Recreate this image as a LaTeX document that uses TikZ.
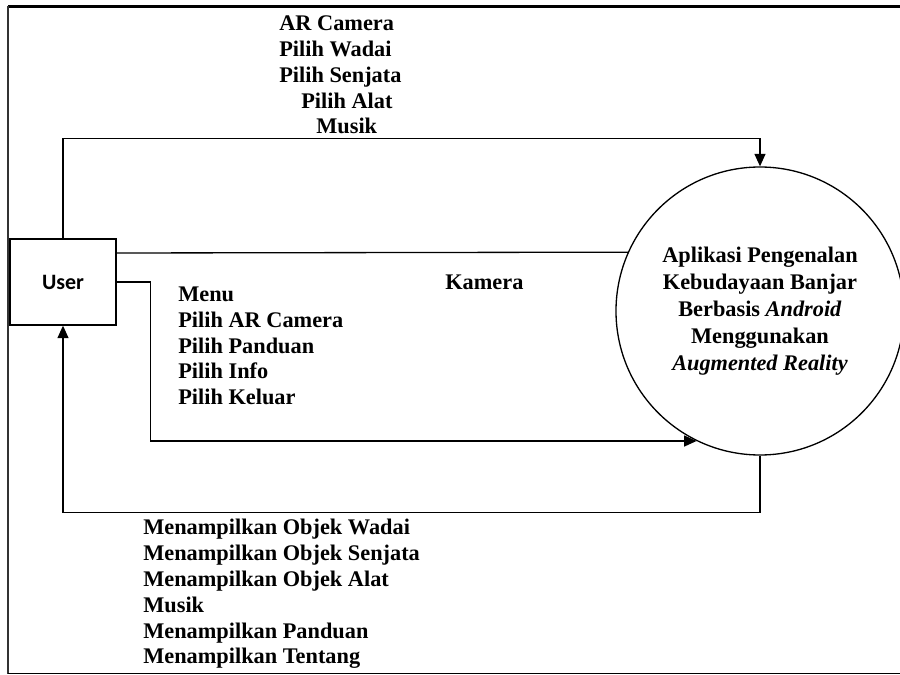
\documentclass[tikz,border=0pt]{standalone}
\usepackage{fontspec}
\setmainfont{Liberation Serif}
\newfontfamily\userfont{Carlito}
\usepackage{tikz}
\usetikzlibrary{arrows.meta, positioning}

\begin{document}
\begin{tikzpicture}[
  entity/.style={rectangle, draw, line width=0.75pt, minimum width=2.12cm, minimum height=1.72cm, font=\userfont\bfseries\fontsize{12.5}{15}\selectfont},
  process/.style={circle, draw, line width=0.75pt, minimum size=5.76cm, inner sep=0pt, align=center, font=\bfseries\fontsize{12.7}{15.3}\selectfont},
  lbl/.style={inner sep=0pt, align=left, font=\bfseries\fontsize{12.7}{14.7}\selectfont},
  flow/.style={-{Triangle[length=2.5mm, width=2.2mm]}, line width=0.75pt},
  link/.style={line width=0.75pt}
]
\useasboundingbox (0,0) rectangle (18,13.5);

\draw[line width=1.4pt] (18,13.37) -- (0.16,13.37);
\draw[line width=0.9pt, black!80] (0.16,13.37) -- (0.16,0.03);
\draw[line width=0.9pt] (0.16,0.03) -- (18,0.03);

\node[entity] (U) at (1.26, 7.86) {User};
\node[process] (P) at (15.2, 7.28) {Aplikasi Pengenalan\\Kebudayaan Banjar\\Berbasis \textit{Android}\\Menggunakan\\\textit{Augmented Reality}};

\node[lbl, anchor=north west] (Lcam) at (5.58, 13.19) {AR Camera\\Pilih Wadai\\Pilih Senjata\\\hspace*{0.44cm}Pilih Alat\\\hspace*{0.74cm}Musik};
\node[lbl, anchor=north west] (Lkam) at (8.9, 8.0) {Kamera};
\node[lbl, anchor=north west] (Lmenu) at (3.56, 7.77) {Menu\\Pilih AR Camera\\Pilih Panduan\\Pilih Info\\Pilih Keluar};
\node[lbl, anchor=north west] (Lout) at (2.86, 3.12) {Menampilkan Objek Wadai\\Menampilkan Objek Senjata\\Menampilkan Objek Alat\\Musik\\Menampilkan Panduan\\Menampilkan Tentang};

\draw[flow] (U.north) -- ++(0,2.0) -| (P.north);
\draw[link] ([yshift=5.8mm]U.east) -- (P.156.25);
\draw[flow] (U.east) -- ++(0.68,0) |- (P.244.5);
\draw[flow] (P.south) -- ++(0,-1.14) -| (U.south);

\end{tikzpicture}
\end{document}
